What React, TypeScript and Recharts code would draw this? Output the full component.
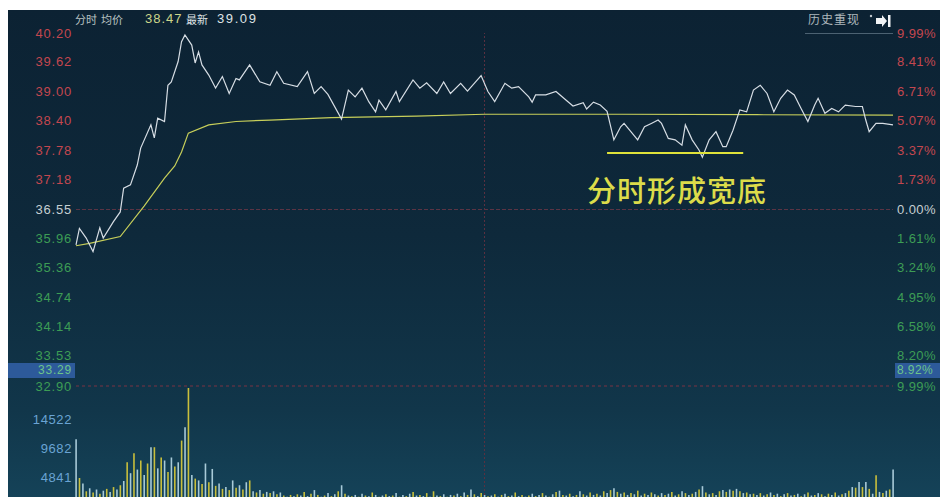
import { ComposedChart, Line, Bar, Cell, XAxis, YAxis, ReferenceLine } from 'recharts';

// price axis ticks (left) and matching % labels (right)
const priceTicks = [40.2, 39.62, 39.0, 38.4, 37.78, 37.18, 36.55, 35.96, 35.36, 34.74, 34.14, 33.53, 32.9];
const priceTickLabels = ['40.20', '39.62', '39.00', '38.40', '37.78', '37.18', '36.55', '35.96', '35.36', '34.74', '34.14', '33.53', '32.90'];
const pctLabels = ['9.99%', '8.41%', '6.71%', '5.07%', '3.37%', '1.73%', '0.00%', '1.61%', '3.24%', '4.95%', '6.58%', '8.20%', '9.99%'];
const prevClose = 36.55;
const volumeTicks = [4841, 9682, 14522];

// minute of session (0..240) and price
const priceTimes = [
  0, 1, 3, 5, 7, 8, 11, 13, 14, 16, 18, 19, 22, 23, 24, 26, 27, 28, 30, 31, 32, 34, 35, 36, 37, 39, 41, 43, 45, 47,
  48, 51, 54, 57, 59, 61, 65, 68, 70, 72, 74, 78, 80, 82, 84, 86, 88, 89, 91, 94, 95, 99, 101, 103, 106, 108, 110,
  113, 115, 119, 121, 123, 126, 128, 130, 133, 134, 135, 138, 141, 144, 146, 149, 150, 152, 154, 156, 158, 160, 161,
  163, 165, 167, 169, 171, 172, 174, 176, 178, 179, 181, 183, 184, 186, 188, 190, 191, 193, 195, 197, 199, 201, 203,
  205, 207, 209, 211, 213, 215, 217, 218, 220, 222, 224, 226, 229, 231, 232, 233, 235, 237, 240,
];
const priceValues = [
  35.82, 36.16, 35.96, 35.68, 36.17, 35.96, 36.3, 36.5, 36.99, 37.06, 37.47, 37.82, 38.3, 38.03, 38.44, 38.37, 39.12,
  39.19, 39.61, 40.02, 40.16, 39.95, 39.58, 39.81, 39.54, 39.33, 39.06, 39.3, 38.95, 39.26, 39.23, 39.54, 39.19, 39.12,
  39.4, 39.16, 39.09, 39.4, 38.95, 39.09, 38.93, 38.42, 39.02, 38.88, 39.06, 38.78, 38.57, 38.81, 38.61, 38.99, 38.78,
  39.23, 39.06, 39.17, 38.95, 39.19, 38.95, 39.16, 39.0, 39.32, 38.99, 38.78, 39.16, 39.06, 39.09, 38.88, 38.77, 38.92,
  38.92, 38.99, 38.81, 38.69, 38.76, 38.63, 38.77, 38.71, 38.58, 37.99, 38.26, 38.33, 38.16, 37.99, 38.26, 38.33, 38.4,
  38.33, 38.02, 37.99, 37.88, 38.3, 37.99, 37.78, 37.63, 37.99, 38.16, 37.85, 37.85, 38.19, 38.61, 38.57, 39.02, 39.12,
  38.95, 38.57, 38.85, 39.02, 38.92, 38.64, 38.37, 38.71, 38.85, 38.54, 38.64, 38.57, 38.71, 38.68, 38.68, 38.4, 38.16,
  38.33, 38.33, 38.3,
];

const avgTimes = [0, 4, 13, 20, 26, 29, 31, 33, 39, 47, 57, 75, 100, 120, 160, 200, 240];
const avgValues = [35.8, 35.85, 35.99, 36.62, 37.2, 37.45, 37.74, 38.13, 38.3, 38.37, 38.4, 38.45, 38.48, 38.52, 38.52, 38.51, 38.5];

// per-minute volume, minute 0..240
const volumeValues = [
  11200, 4800, 3900, 2600, 3100, 2400, 2900, 2200, 2700, 3000, 2500,
  3300, 2900, 3600, 4300, 7400, 5600, 8900, 6200, 7700, 5300,
  7200, 9900, 9900, 6400, 8200, 7700, 5800, 8200, 6700, 7400,
  11000, 13200, 19700, 5300, 4700, 4400, 3800, 7200, 4100, 6300,
  3500, 3900, 3000, 3300, 2800, 4400, 3200, 3600, 2900, 4100,
  4400, 2600, 2400, 2800, 2200, 2500, 2300, 2600, 2100, 2400,
  1900, 1700, 2000, 1800, 2100, 1900, 2500, 1800, 2200, 2800,
  2000, 1700, 1900, 2300, 1800, 2100, 2600, 3600, 2200, 1900,
  1800, 2000, 1700, 2200, 1900, 1800, 2400, 2000, 1700, 1900,
  2100, 1800, 1900, 2300, 1700, 2000, 1800, 2200, 2500, 1900,
  2000, 1800, 2300, 1700, 2600, 1900, 1800, 2100, 1700, 2000,
  1900, 2200, 1800, 2400, 2000, 2900, 2100, 1800, 2300, 2000,
  1800, 1900, 2100, 1700, 2000, 2200, 1800, 1900, 2400, 1800,
  2000, 1700, 1900, 2200, 1800, 2000, 2300, 1900, 1700, 2100,
  2500, 2700, 2000, 1900, 2200, 1800, 2000, 2600, 2100, 1900,
  2400, 2000, 2200, 1900, 2600, 2300, 2800, 3100, 2500, 2200,
  2400, 2000, 2300, 2100, 2700, 1900, 2200, 2000, 2400, 2100,
  1900, 2300, 2000, 2200, 2500, 1900, 2100, 2600, 2300, 2000,
  2200, 2500, 2900, 3450, 2400, 2100, 2300, 2000, 2600, 2800,
  2500, 2900, 2700, 3000, 2600, 2300, 2400, 2100, 2200, 2000,
  2300, 1900, 2100, 2400, 2000, 2200, 1800, 2100, 2300, 1900,
  2000, 2200, 1800, 2100, 2400, 1900, 2000, 2300, 2100, 1800,
  2200, 2000, 2400, 1900, 2100, 2300, 2700, 3300, 3200, 4150,
  3300, 4150, 3000, 2200, 5250, 2500, 2300, 2700, 2900, 6190,
];

const cursorPrice = '33.29';
const cursorPct = '8.92%';
const baseLow = 37.72; // 宽底 line
const baseFrom = 156;
const baseTo = 196;

const priceData = priceTimes.map((m, i) => ({ m, p: priceValues[i] }));
const avgData = avgTimes.map((m, i) => ({ m, a: avgValues[i] }));
const volumeData = volumeValues.map((v, i) => ({ m: i, v }));

const FONT = '"Liberation Sans", Arial, sans-serif';
const CJK = '"Noto Sans CJK SC", sans-serif';

const tickColor = (v: number) => (v > prevClose + 0.01 ? '#c4474f' : v < prevClose - 0.01 ? '#3d9d55' : '#c6cfd2');

// draws the left price label and the right % label on the same row
const PriceTick = (props: any) => {
  const { y, payload } = props;
  const idx = priceTicks.indexOf(payload.value);
  const c = tickColor(payload.value);
  return (
    <g>
      <text x={72} y={y} dy={4.5} textAnchor="end" fill={c} fontSize={13} letterSpacing={0.8} fontFamily={FONT}>
        {priceTickLabels[idx]}
      </text>
      <text x={897} y={y} dy={4.5} textAnchor="start" fill={c} fontSize={13} letterSpacing={0.4} fontFamily={FONT}>
        {pctLabels[idx]}
      </text>
    </g>
  );
};

const VolTick = (props: any) => {
  const { y, payload } = props;
  return (
    <text x={72} y={y} dy={4.5} textAnchor="end" fill="#6aa4d4" fontSize={13} letterSpacing={0.6} fontFamily={FONT}>
      {payload.value}
    </text>
  );
};

const hdr = (left: number, text: string, color: string, font: string, size = 11, ls = 0) => (
  <div
    style={{
      position: 'absolute',
      left,
      top: 12,
      fontSize: size,
      fontFamily: font,
      color,
      letterSpacing: ls,
      whiteSpace: 'nowrap',
      lineHeight: '14px',
    }}
  >
    {text}
  </div>
);

export default function App() {
  return (
    <div style={{ position: 'absolute', left: 0, top: 0, width: 940, height: 497, overflow: 'hidden', background: '#fff' }}>
      <div
        style={{
          position: 'absolute',
          left: 8,
          top: 10,
          width: 932,
          height: 500,
          background: 'linear-gradient(180deg, #0c2233 0%, #0e293b 45%, #11364a 80%, #15445a 100%)',
        }}
      />
      <div style={{ position: 'absolute', left: 0, top: 0 }}>
        <ComposedChart width={940} height={395} margin={{ top: 33, right: 47, bottom: 9, left: 0 }}>
          <XAxis type="number" dataKey="m" domain={[0, 240]} hide />
          <YAxis
            yAxisId="price"
            domain={[32.9, 40.2]}
            ticks={priceTicks}
            interval={0}
            width={76}
            axisLine={false}
            tickLine={false}
            tick={<PriceTick />}
          />
          <ReferenceLine yAxisId="price" y={prevClose} stroke="#5b3444" strokeDasharray="4 2" />
          <ReferenceLine yAxisId="price" y={32.9} stroke="#7a3242" strokeDasharray="3 3" />
          <ReferenceLine yAxisId="price" x={120} stroke="#5a3040" strokeDasharray="2 2" />
          <Line
            yAxisId="price"
            data={avgData}
            dataKey="a"
            type="linear"
            stroke="#c7cf5a"
            strokeWidth={1.2}
            dot={false}
            isAnimationActive={false}
          />
          <Line
            yAxisId="price"
            data={priceData}
            dataKey="p"
            type="linear"
            stroke="#d6dde4"
            strokeWidth={1.2}
            dot={false}
            isAnimationActive={false}
          />
          <ReferenceLine
            yAxisId="price"
            segment={[
              { x: baseFrom, y: baseLow },
              { x: baseTo, y: baseLow },
            ]}
            stroke="#dfe23a"
            strokeWidth={2}
          />
        </ComposedChart>
      </div>
      <div style={{ position: 'absolute', left: 0, top: 380 }}>
        <ComposedChart width={940} height={140} data={volumeData} margin={{ top: 8, right: 47, bottom: 13, left: 0 }}>
          <XAxis type="number" dataKey="m" domain={[0, 240]} hide />
          <YAxis
            yAxisId="vol"
            domain={[0, 19364]}
            ticks={volumeTicks}
            interval={0}
            width={76}
            axisLine={false}
            tickLine={false}
            tick={<VolTick />}
          />
          <ReferenceLine yAxisId="vol" x={120} stroke="#5a3040" strokeDasharray="2 2" />
          <Bar yAxisId="vol" dataKey="v" barSize={1.6} isAnimationActive={false}>
            {volumeData.map((d, i) => (
              <Cell key={d.m} fill={i % 2 ? '#c9bf3c' : '#a8cad8'} />
            ))}
          </Bar>
        </ComposedChart>
      </div>

      {/* header */}
      {hdr(75, '分时', '#b9c2c2', CJK)}
      {hdr(101, '均价', '#b9c2c2', CJK)}
      {hdr(145, '38.47', '#cdd68a', FONT, 13, 1)}
      {hdr(186, '最新', '#dfe3e6', CJK)}
      {hdr(217, '39.09', '#dfe3e6', FONT, 13, 1.6)}
      {hdr(808, '历史重现', '#aeb8bd', CJK, 12, 1)}
      <svg style={{ position: 'absolute', left: 868, top: 13 }} width={24} height={16}>
        <circle cx={3} cy={3} r={1.2} fill="#c0c8cc" />
        <polygon points="8,5 14,5 14,2 19,8 14,14 14,11 8,11" fill="#f2f4f6" />
        <rect x={20} y={2} width={2.5} height={12} fill="#f2f4f6" />
      </svg>
      <div style={{ position: 'absolute', left: 805, top: 33, width: 88, height: 1, background: '#4c6272' }} />

      {/* annotation */}
      <div
        style={{
          position: 'absolute',
          left: 587,
          top: 171,
          fontSize: 29,
          lineHeight: '36px',
          fontFamily: CJK,
          fontWeight: 500,
          color: '#dcdc4a',
          letterSpacing: 1,
          whiteSpace: 'nowrap',
        }}
      >
        分时形成宽底
      </div>

      {/* cursor price boxes */}
      <div
        style={{
          position: 'absolute',
          left: 8,
          top: 363,
          width: 67,
          height: 15,
          background: '#2d5a9a',
          color: '#6cc48a',
          fontFamily: FONT,
          fontSize: 12,
          letterSpacing: 0.8,
          lineHeight: '15px',
          textAlign: 'right',
          paddingRight: 3,
          boxSizing: 'border-box',
        }}
      >
        {cursorPrice}
      </div>
      <div
        style={{
          position: 'absolute',
          left: 895,
          top: 363,
          width: 45,
          height: 15,
          background: '#2d5a9a',
          color: '#6cc48a',
          fontFamily: FONT,
          fontSize: 12,
          letterSpacing: 0.4,
          lineHeight: '15px',
          paddingLeft: 2,
          boxSizing: 'border-box',
        }}
      >
        {cursorPct}
      </div>
    </div>
  );
}
